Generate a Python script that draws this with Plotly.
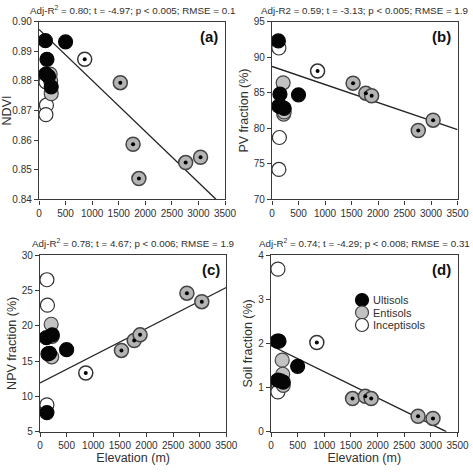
import plotly.graph_objects as go

# ---------------- data ----------------
# low-elevation sites by soil order (elevation in m)
ult_elev = [120, 150, 130, 230, 180, 500]
ent_elev = [210, 220, 230]
inc_elev = [130, 140, 130]
# high-elevation sites (dotted markers)
hi_ent_elev = [1530, 1770, 1880, 2760, 3040]
hi_inc_elev = [860]

ndvi_ult = [0.8936, 0.8873, 0.8823, 0.8780, 0.8815, 0.8932]
ndvi_ent = [0.8823, 0.8800, 0.8757]
ndvi_inc = [0.8797, 0.8718, 0.8686]
ndvi_hi_ent = [0.8794, 0.8586, 0.8470, 0.8524, 0.8542]
ndvi_hi_inc = [0.8873]

pv_ult = [92.3, 84.8, 83.1, 82.8, 83.0, 84.7]
pv_ent = [86.4, 82.0, 82.3]
pv_inc = [91.3, 78.7, 74.2]
pv_hi_ent = [86.35, 84.94, 84.57, 79.68, 81.14]
pv_hi_inc = [88.05]

npv_ult = [18.3, 16.0, 7.7, 18.7, 16.1, 16.6]
npv_ent = [20.2, 15.6, 18.5]
npv_inc = [26.5, 22.9, 8.8]
npv_hi_ent = [16.5, 17.9, 18.7, 24.6, 23.4]
npv_hi_inc = [13.3]

soil_ult = [2.05, 2.05, 1.17, 1.12, 1.15, 1.48]
soil_ent = [1.62, 1.30, 1.05]
soil_inc = [3.68, 1.05, 0.90]
soil_hi_ent = [0.75, 0.80, 0.75, 0.35, 0.30]
soil_hi_inc = [2.02]

# regression line end points
fit_a_x = [0, 3330]; fit_a_y = [0.8974, 0.840]
fit_b_x = [0, 3500]; fit_b_y = [88.7, 79.8]
fit_c_x = [0, 3500]; fit_c_y = [11.9, 25.4]
fit_d_x = [0, 3290]; fit_d_y = [1.95, 0.0]

titles = [
    "Adj-R<sup>2</sup> = 0.80; t = -4.97; p < 0.005; RMSE = 0.1",
    "Adj-R2 = 0.59; t = -3.13; p < 0.005; RMSE = 1.9",
    "Adj-R<sup>2</sup> = 0.78; t = 4.67; p < 0.006; RMSE = 1.9",
    "Adj-R<sup>2</sup> = 0.74; t = -4.29; p < 0.008; RMSE = 0.31",
]
panel_labels = ["(a)", "(b)", "(c)", "(d)"]
y_titles = ["NDVI", "PV fraction (%)", "NPV fraction (%)", "Soil fraction (%)"]
y_ranges = [[0.84, 0.90], [70, 95], [5, 30], [0, 4]]
y_dticks = [0.01, 5, 5, 1]
legend_names = ["Ultisols", "Entisols", "Inceptisols"]

# ---------------- figure ----------------
W = H = 473
FONT = "Liberation Sans, Arial, sans-serif"
TXT = "#303030"
LINE = "#3a3a3a"

fig = go.Figure()


def px_x(a, b):
    return [a / W, b / W]


def px_y(top, bottom):
    return [1 - bottom / H, 1 - top / H]


x_domains = [px_x(39, 225), px_x(272, 457.5), px_x(40, 226.3), px_x(271, 457.5)]
y_domains = [px_y(21.7, 199.3), px_y(21.7, 199.3), px_y(255, 431.7), px_y(255, 431.7)]

panels = [
    (ndvi_ult, ndvi_ent, ndvi_inc, ndvi_hi_ent, ndvi_hi_inc, fit_a_x, fit_a_y),
    (pv_ult, pv_ent, pv_inc, pv_hi_ent, pv_hi_inc, fit_b_x, fit_b_y),
    (npv_ult, npv_ent, npv_inc, npv_hi_ent, npv_hi_inc, fit_c_x, fit_c_y),
    (soil_ult, soil_ent, soil_inc, soil_hi_ent, soil_hi_inc, fit_d_x, fit_d_y),
]

MS = 14
for i, (u, e, inc, he, hi, fx, fy) in enumerate(panels):
    xa = "x" if i == 0 else f"x{i+1}"
    ya = "y" if i == 0 else f"y{i+1}"
    common = dict(xaxis=xa, yaxis=ya, showlegend=False, hoverinfo="skip")
    fig.add_trace(go.Scatter(x=fx, y=fy, mode="lines",
                             line=dict(color="#222", width=1.3), **common))
    fig.add_trace(go.Scatter(x=inc_elev, y=inc, mode="markers",
                             marker=dict(size=MS, color="white", line=dict(color="#333", width=1.2)), **common))
    fig.add_trace(go.Scatter(x=ent_elev, y=e, mode="markers",
                             marker=dict(size=MS, color="#c2c2c2", line=dict(color="#444", width=1.2)), **common))
    fig.add_trace(go.Scatter(x=ult_elev, y=u, mode="markers",
                             marker=dict(size=MS, color="#050505", line=dict(color="#050505", width=1.2)), **common))
    fig.add_trace(go.Scatter(x=hi_inc_elev, y=hi, mode="markers",
                             marker=dict(size=MS, color="white", line=dict(color="#333", width=1.5)), **common))
    fig.add_trace(go.Scatter(x=hi_ent_elev, y=he, mode="markers",
                             marker=dict(size=MS, color="#b4b4b4", line=dict(color="#444", width=1.5)), **common))
    fig.add_trace(go.Scatter(x=hi_inc_elev + hi_ent_elev, y=hi + he, mode="markers",
                             marker=dict(size=4, color="#000"), **common))

    ax_common = dict(showline=True, mirror=True, linecolor=LINE, linewidth=1.4,
                     ticks="outside", ticklen=4, tickcolor=LINE, tickwidth=1.2,
                     showgrid=False, zeroline=False, automargin=False,
                     tickfont=dict(family=FONT, size=10, color=TXT))
    xkey = "xaxis" if i == 0 else f"xaxis{i+1}"
    ykey = "yaxis" if i == 0 else f"yaxis{i+1}"
    xdict = dict(domain=x_domains[i], anchor=ya, range=[0, 3500], tick0=0, dtick=500, **ax_common)
    if i >= 2:
        xdict["title"] = dict(text="Elevation (m)", font=dict(family=FONT, size=12.5, color=TXT), standoff=0)
    ydict = dict(domain=y_domains[i], anchor=xa, range=y_ranges[i], tick0=y_ranges[i][0],
                 dtick=y_dticks[i], **ax_common)
    ydict["title"] = dict(text=y_titles[i], font=dict(family=FONT, size=12.5, color=TXT), standoff=2)
    if i == 0:
        ydict["tickformat"] = ".2f"
    fig.layout[xkey] = xdict
    fig.layout[ykey] = ydict

    xd = "x domain" if i == 0 else f"x{i+1} domain"
    yd = "y domain" if i == 0 else f"y{i+1} domain"
    fig.add_annotation(text=titles[i], xref=xd, yref=yd, x=0.5, y=1, yanchor="bottom",
                       xanchor="center", yshift=4, showarrow=False,
                       font=dict(family=FONT, size=9.8, color=TXT))
    fig.add_annotation(text="<b>" + panel_labels[i] + "</b>", xref=xd, yref=yd, x=0.975, y=0.975,
                       xanchor="right", yanchor="top", showarrow=False,
                       font=dict(family=FONT, size=15, color="#111"))

# manual legend in panel (d)
leg_style = [("#050505", "#050505"), ("#c2c2c2", "#444"), ("white", "#333")]
leg_y = [300, 312.5, 325]
for (fill, edge), yy, name in zip(leg_style, leg_y, legend_names):
    fig.add_shape(type="circle", xref="paper", yref="paper", xsizemode="pixel", ysizemode="pixel",
                  xanchor=362 / W, yanchor=1 - yy / H, x0=-6.5, x1=6.5, y0=-6.5, y1=6.5,
                  fillcolor=fill, line=dict(color=edge, width=1.2))
    fig.add_annotation(text=name, xref="paper", yref="paper", x=371 / W, y=1 - yy / H,
                       xanchor="left", yanchor="middle", showarrow=False,
                       font=dict(family=FONT, size=11, color=TXT))

fig.update_layout(width=W, height=H, margin=dict(l=0, r=0, t=0, b=0),
                  paper_bgcolor="white", plot_bgcolor="white", showlegend=False,
                  font=dict(family=FONT, color=TXT))

fig.write_html("out.html")
